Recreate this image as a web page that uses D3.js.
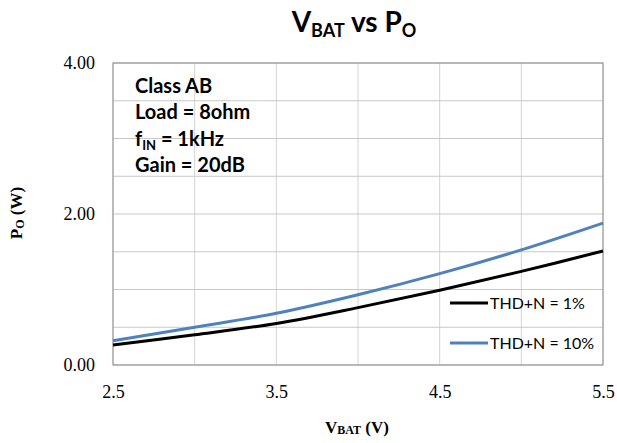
<!DOCTYPE html>
<html><head><meta charset="utf-8">
<script src="https://cdn.jsdelivr.net/npm/d3@7"></script>
<style>body{margin:0;background:#fff}svg{display:block}</style>
</head><body>
<script>
const vbat = [2.5, 3.0, 3.5, 4.0, 4.5, 5.0, 5.5];
const thd1 = [0.265, 0.40, 0.55, 0.76, 0.99, 1.24, 1.51];
const thd10 = [0.32, 0.50, 0.685, 0.93, 1.21, 1.525, 1.88];
const xTicks = [2.5, 3.5, 4.5, 5.5];
const yTicks = [0, 2, 4];
const seriesNames = ["THD+N = 1%", "THD+N = 10%"];
const notes = ["Class AB", "Load = 8ohm", "f|IN| = 1kHz", "Gain = 20dB"];

const W = 617, H = 443;
const m = {l:113, r:603, t:63, b:365};
const svg = d3.select("body").append("svg").attr("width", W).attr("height", H);
svg.append("rect").attr("width", W).attr("height", H).attr("fill", "#fff");

const x = d3.scaleLinear().domain([2.5, 5.5]).range([m.l, m.r]);
const y = d3.scaleLinear().domain([0, 4]).range([m.b, m.t]);

// gridlines
const g = svg.append("g");
g.selectAll(".vg").data(d3.range(2.5, 5.51, 0.5)).enter().append("line")
  .attr("x1", d => x(d)).attr("x2", d => x(d)).attr("y1", m.t).attr("y2", m.b)
  .attr("stroke", "#d4d4d4").attr("stroke-width", 1);
g.selectAll(".hg").data(d3.range(0, 4.01, 0.5)).enter().append("line")
  .attr("y1", d => y(d)).attr("y2", d => y(d)).attr("x1", m.l).attr("x2", m.r)
  .attr("stroke", "#c8c8c8").attr("stroke-width", 1);
svg.append("rect").attr("x", m.l).attr("y", m.t).attr("width", m.r - m.l).attr("height", m.b - m.t)
  .attr("fill", "none").attr("stroke", "#8c8c8c").attr("stroke-width", 1);

// axes labels
const yAxis = d3.axisLeft(y).tickValues(yTicks).tickFormat(d3.format(".2f")).tickSize(0).tickPadding(18);
svg.append("g").attr("transform", `translate(${m.l},0)`).call(yAxis)
  .call(s => s.select(".domain").remove())
  .selectAll("text").attr("font-family", "Liberation Serif").attr("font-size", 18).attr("fill", "#000");
const xAxis = d3.axisBottom(x).tickValues(xTicks).tickFormat(d3.format(".1f")).tickSize(0).tickPadding(20);
svg.append("g").attr("transform", `translate(0,${m.b})`).call(xAxis)
  .call(s => s.select(".domain").remove())
  .selectAll("text").attr("font-family", "Liberation Serif").attr("font-size", 18).attr("fill", "#000");

// lines
const line = d3.line().curve(d3.curveCatmullRom.alpha(0.5));
const series = [
  {vals: thd1, color: "#000000"},
  {vals: thd10, color: "#4f81bd"}
];
series.forEach(s => {
  svg.append("path").attr("d", line(vbat.map((v, i) => [x(v), y(s.vals[i])])))
    .attr("fill", "none").attr("stroke", s.color).attr("stroke-width", 3);
});

// legend
const leg = svg.append("g");
series.forEach((s, i) => {
  const ly = 303 + i * 40;
  leg.append("line").attr("x1", 450).attr("x2", 488).attr("y1", ly).attr("y2", ly)
    .attr("stroke", s.color).attr("stroke-width", 3);
  leg.append("text").attr("x", 490).attr("y", ly + 6).text(seriesNames[i])
    .attr("font-family", "Lato").attr("font-size", 16).attr("fill", "#000");
});

// notes
notes.forEach((n, i) => {
  const t = svg.append("text").attr("x", 135).attr("y", 93 + i * 26.3)
    .attr("font-family", "Lato").attr("font-weight", "bold").attr("font-size", 20).attr("fill", "#000");
  const parts = n.split("|");
  parts.forEach((p, j) => {
    const ts = t.append("tspan").text(p);
    if (j === 1) ts.attr("font-size", 13).attr("dy", 4);
    if (j === 2) ts.attr("dy", -4);
  });
});

// title
const title = svg.append("text").attr("x", 354).attr("y", 32).attr("text-anchor", "middle")
  .attr("font-family", "Lato").attr("font-weight", "bold").attr("font-size", 28).attr("fill", "#000");
title.append("tspan").text("V");
title.append("tspan").text("BAT").attr("font-size", 18).attr("dy", 5);
title.append("tspan").text(" vs P").attr("dy", -5);
title.append("tspan").text("O").attr("font-size", 18).attr("dy", 5);

// x title
const xt = svg.append("text").attr("x", 357).attr("y", 433).attr("text-anchor", "middle")
  .attr("font-family", "Liberation Serif").attr("font-weight", "bold").attr("font-size", 17).attr("fill", "#000");
xt.append("tspan").text("V");
xt.append("tspan").text("BAT").attr("font-size", 12).attr("dy", 1);
xt.append("tspan").text(" (V)").attr("dy", -1);

// y title
const yt = svg.append("text").attr("transform", "translate(22,213) rotate(-90)").attr("text-anchor", "middle")
  .attr("font-family", "Liberation Serif").attr("font-weight", "bold").attr("font-size", 17).attr("fill", "#000");
yt.append("tspan").text("P");
yt.append("tspan").text("O").attr("font-size", 12).attr("dy", 2);
yt.append("tspan").text(" (W)").attr("dy", -2);
</script>
</body></html>
